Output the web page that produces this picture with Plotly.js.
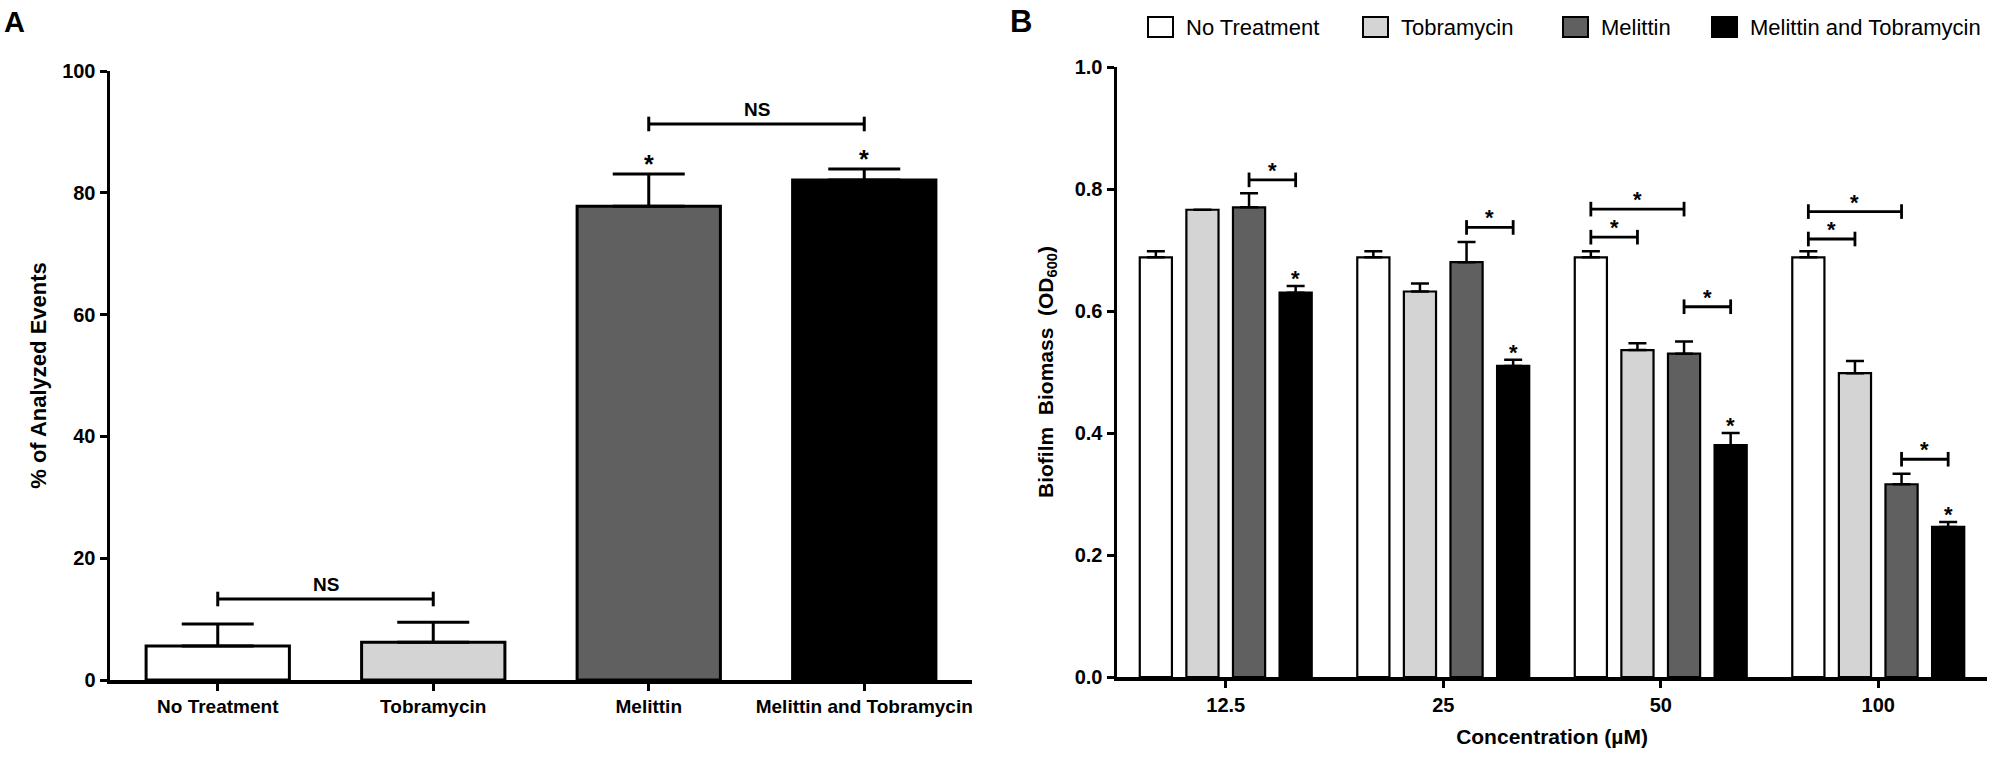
<!DOCTYPE html>
<html>
<head>
<meta charset="utf-8">
<script src="https://cdn.plot.ly/plotly-3.0.1.min.js"></script>
<style>
  html, body { margin: 0; padding: 0; background: #fff; }
  #plot { width: 2001px; height: 757px; }
</style>
</head>
<body>
<div id="plot"></div>
<script>
// Panel A: % of analyzed events per treatment
var aCategories = ["No Treatment", "Tobramycin", "Melittin", "Melittin and Tobramycin"];
var aValues = [5.6, 6.2, 77.8, 82.1];
var aErrors = [3.6, 3.3, 5.3, 1.8];
// brackets: [from category, to category, height, label]
var aBrackets = [[0, 1, 13.3, "NS"], [2, 3, 91.3, "NS"]];
var aStars = [2, 3];

// Panel B: biofilm biomass by concentration
var concentrations = ["12.5", "25", "50", "100"];
var seriesNames = ["No Treatment", "Tobramycin", "Melittin", "Melittin and Tobramycin"];
var noTreatment = [0.688, 0.688, 0.688, 0.688];
var tobramycin = [0.766, 0.632, 0.536, 0.498];
var melittin = [0.770, 0.680, 0.530, 0.316];
var combined = [0.630, 0.510, 0.380, 0.246];
var noTreatmentErr = [0.010, 0.010, 0.010, 0.010];
var tobramycinErr = [0.000, 0.013, 0.011, 0.020];
var melittinErr = [0.023, 0.033, 0.020, 0.017];
var combinedErr = [0.011, 0.010, 0.020, 0.008];
// brackets: [group, from series, to series, height]
var bBrackets = [
  [0, 2, 3, 0.815],
  [1, 2, 3, 0.737],
  [2, 0, 2, 0.767],
  [2, 0, 1, 0.721],
  [2, 2, 3, 0.607],
  [3, 0, 2, 0.763],
  [3, 0, 1, 0.718],
  [3, 2, 3, 0.357]
];
var bStarSeries = 3; // star above every combined bar

var fills = ["#ffffff", "#d4d4d4", "#606060", "#000000"];
var font = "Liberation Sans, Arial, Helvetica, sans-serif";
var W = 2001, H = 757;
function px(x) { return x / W; }
function py(y) { return 1 - y / H; }

var bargap = 0.143;
var slot = (1 - bargap) / 4;
function bx(group, s) { return group + (s - 1.5) * slot; }

var data = [{
  type: "bar",
  x: aCategories,
  y: aValues,
  width: 0.665,
  xaxis: "x", yaxis: "y",
  marker: { color: fills, line: { color: "#000", width: 3 } },
  error_y: { type: "data", symmetric: false, array: aErrors, arrayminus: [0, 0, 0, 0],
             color: "#000", thickness: 3, width: 36 },
  showlegend: false,
  hoverinfo: "x+y"
}];

var bValues = [noTreatment, tobramycin, melittin, combined];
var bErrors = [noTreatmentErr, tobramycinErr, melittinErr, combinedErr];
for (var i = 0; i < 4; i++) {
  data.push({
    type: "bar",
    name: seriesNames[i],
    x: concentrations,
    y: bValues[i],
    xaxis: "x2", yaxis: "y2",
    marker: { color: fills[i], line: { color: "#000", width: 2.2 } },
    error_y: { type: "data", symmetric: false, array: bErrors[i], arrayminus: [0, 0, 0, 0],
               color: "#000", thickness: 2.5, width: 9 },
    showlegend: false
  });
}

var shapes = [];
var annotations = [];

// panel A significance marks
aBrackets.forEach(function (b) {
  var line = { color: "#000", width: 3 };
  shapes.push({ type: "line", xref: "x", yref: "y", x0: b[0], x1: b[1], y0: b[2], y1: b[2], line: line });
  shapes.push({ type: "line", xref: "x", yref: "y", x0: b[0], x1: b[0], y0: b[2] - 1.2, y1: b[2] + 1.2, line: line });
  shapes.push({ type: "line", xref: "x", yref: "y", x0: b[1], x1: b[1], y0: b[2] - 1.2, y1: b[2] + 1.2, line: line });
  annotations.push({ xref: "x", yref: "y", x: (b[0] + b[1]) / 2, y: b[2], text: b[3], showarrow: false,
                     yanchor: "bottom", yshift: 2, font: { family: font, size: 19, color: "#000", weight: "bold" } });
});
aStars.forEach(function (i) {
  annotations.push({ xref: "x", yref: "y", x: i, y: aValues[i] + aErrors[i], text: "*", showarrow: false,
                     yanchor: "bottom", yshift: -6, font: { family: font, size: 25, color: "#000", weight: "bold" } });
});

// panel B significance marks
bBrackets.forEach(function (b) {
  var x0 = bx(b[0], b[1]), x1 = bx(b[0], b[2]);
  var line = { color: "#000", width: 2.8 };
  shapes.push({ type: "line", xref: "x2", yref: "y2", x0: x0, x1: x1, y0: b[3], y1: b[3], line: line });
  shapes.push({ type: "line", xref: "x2", yref: "y2", x0: x0, x1: x0, y0: b[3] - 0.012, y1: b[3] + 0.012, line: line });
  shapes.push({ type: "line", xref: "x2", yref: "y2", x0: x1, x1: x1, y0: b[3] - 0.012, y1: b[3] + 0.012, line: line });
  annotations.push({ xref: "x2", yref: "y2", x: (x0 + x1) / 2, y: b[3], text: "*", showarrow: false,
                     yanchor: "bottom", yshift: -5, font: { family: font, size: 22, color: "#000", weight: "bold" } });
});
concentrations.forEach(function (c, g) {
  annotations.push({ xref: "x2", yref: "y2", x: bx(g, bStarSeries),
                     y: combined[g] + combinedErr[g], text: "*", showarrow: false,
                     yanchor: "bottom", yshift: -7, font: { family: font, size: 22, color: "#000", weight: "bold" } });
});

// legend across the top of panel B
var legendBoxX = [1148, 1363, 1563, 1712];
seriesNames.forEach(function (name, i) {
  shapes.push({ type: "rect", xref: "paper", yref: "paper",
                x0: px(legendBoxX[i]), x1: px(legendBoxX[i] + 25), y0: py(37), y1: py(17),
                fillcolor: fills[i], line: { color: "#000", width: 2 } });
  annotations.push({ xref: "paper", yref: "paper", x: px(legendBoxX[i] + 36), y: py(27),
                     xanchor: "left", yanchor: "middle", text: name, showarrow: false,
                     font: { family: font, size: 22, color: "#000" } });
});

// panel letters
annotations.push({ xref: "paper", yref: "paper", x: px(2), y: py(4), xanchor: "left", yanchor: "top",
                   text: "A", showarrow: false, font: { family: font, size: 29, color: "#000", weight: "bold" } });
annotations.push({ xref: "paper", yref: "paper", x: px(1008), y: py(2), xanchor: "left", yanchor: "top",
                   text: "B", showarrow: false, font: { family: font, size: 31, color: "#000", weight: "bold" } });

var tickFont = { family: font, size: 20, color: "#000", weight: "bold" };
var axisCommon = {
  showgrid: false, zeroline: false, showline: true, linecolor: "#000", linewidth: 3.5,
  ticks: "outside", ticklen: 7, tickwidth: 3, tickcolor: "#000",
  tickfont: tickFont, automargin: false, fixedrange: true
};

var layout = {
  width: W, height: H, autosize: false,
  margin: { l: 0, r: 0, t: 0, b: 0 },
  paper_bgcolor: "#fff", plot_bgcolor: "#fff",
  font: { family: font, color: "#000" },
  barmode: "group",
  bargap: bargap,
  bargroupgap: 0.31,
  xaxis: Object.assign({}, axisCommon, {
    domain: [px(110), px(972)], anchor: "y", type: "category", range: [-0.5, 3.5],
    tickfont: { family: font, size: 19, color: "#000", weight: "bold" }
  }),
  yaxis: Object.assign({}, axisCommon, {
    domain: [py(680), py(71)], anchor: "x", range: [0, 100], dtick: 20, tick0: 0,
    title: { text: "% of Analyzed Events", standoff: 10,
             font: { family: font, size: 22, color: "#000", weight: "bold" } }
  }),
  xaxis2: Object.assign({}, axisCommon, {
    domain: [px(1117), px(1987)], anchor: "y2", type: "category", range: [-0.5, 3.5],
    title: { text: "Concentration (\u00b5M)", standoff: 16,
             font: { family: font, size: 21, color: "#000", weight: "bold" } }
  }),
  yaxis2: Object.assign({}, axisCommon, {
    domain: [py(677), py(67)], anchor: "x2", range: [0, 1], dtick: 0.2, tick0: 0, tickformat: ".1f",
    title: { text: "Biofilm\u00a0\u00a0Biomass\u00a0\u00a0(OD<sub>600</sub>)", standoff: 16,
             font: { family: font, size: 21, color: "#000", weight: "bold" } }
  }),
  shapes: shapes,
  annotations: annotations
};

Plotly.newPlot("plot", data, layout, { staticPlot: true });
</script>
</body>
</html>
